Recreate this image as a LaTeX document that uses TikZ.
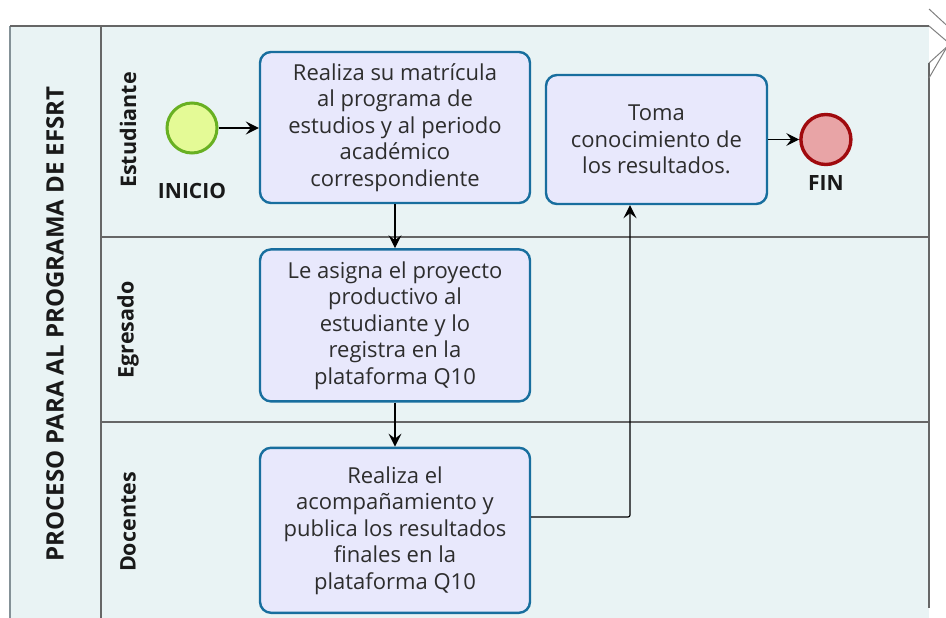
\documentclass[tikz,border=0pt]{standalone}
\usepackage{fontspec}
\setmainfont{Open Sans}
\usetikzlibrary{positioning,arrows.meta}

\definecolor{poolbg}{RGB}{233,243,244}
\definecolor{taskbg}{RGB}{232,232,252}
\definecolor{taskline}{RGB}{24,110,158}
\definecolor{startbg}{RGB}{228,250,150}
\definecolor{startline}{RGB}{104,176,34}
\definecolor{endbg}{RGB}{232,164,166}
\definecolor{endline}{RGB}{160,10,14}
\definecolor{txt}{RGB}{45,45,45}

\tikzset{
	task/.style={draw=taskline, fill=taskbg, line width=2.4pt, rounded corners=11pt,
		minimum width=270pt, align=center, text=txt,
		font=\fontsize{22}{26.5}\selectfont},
	start/.style={circle, draw=startline, fill=startbg, line width=3pt, minimum size=50pt, inner sep=0pt},
	stop/.style={circle, draw=endline, fill=endbg, line width=3.4pt, minimum size=50pt, inner sep=0pt},
	lbl/.style={font=\fontsize{21}{24}\selectfont\bfseries, text=black!90},
	lane/.style={rotate=90, font=\fontsize{21.5}{24}\selectfont\bfseries, text=black!90},
	poolline/.style={draw=black!60, line width=1.3pt},
	flow/.style={draw=black, line width=1.2pt, -{Stealth[length=13pt, width=13pt, inset=5pt]}}
}

\begin{document}
\begin{tikzpicture}[x=1pt, y=-1pt]
	\useasboundingbox (0,0) rectangle (946,618);
	\clip (0,0) rectangle (946,618);
	
	% pool and lanes
	\fill[poolbg] (10,26) rectangle (929,640);
	\draw[draw=black!30!cyan!20!gray, line width=1.3pt] (10,26) -- (10,640);
	\draw[poolline] (10,26) -- (929,26);
	\draw[poolline] (101,26) -- (101,640);
	\draw[poolline] (929,63) -- (929,608);
	\draw[poolline] (101,237) -- (929,237);
	\draw[poolline] (101,422) -- (929,422);
	\draw[draw=black!50, line width=1pt] (929,9) -- (955,33) -- (929,78);
	\draw[draw=black!50, line width=1pt] (929,26) -- (950,44) -- (929,63);
	
	\node[lane, font=\fontsize{24}{28}\selectfont\bfseries] (l_pool) at (55,324) {PROCESO PARA AL PROGRAMA DE EFSRT};
	\node[lane] (l_est) at (128,130) {Estudiante};
	\node[lane] (l_egr) at (128,330) {Egresado};
	\node[lane] (l_doc) at (128,522) {Docentes};
	
	% activities
	\node[task, minimum height=151pt](matricula) at (395,127.5){Realiza su matrícula\\al programa de\\estudios y al periodo\\académico\\correspondiente};
	\node[task, minimum height=152pt, below = 44pt of matricula](asigna){Le asigna el proyecto\\productivo al\\estudiante y lo\\registra en la\\plataforma Q10};
	\node[task, minimum height=165pt, below = 44pt of asigna](acomp){Realiza el\\acompañamiento y\\publica los resultados\\finales en la\\plataforma Q10};
	\node[task, minimum width=221pt, minimum height=129pt](toma) at (656.5,139.5){Toma\\conocimiento de\\los resultados.};
	
	% events
	\node[start](inicio) at (192,128){};
	\node[lbl, below = 36pt of inicio.south, anchor=center](l_inicio){INICIO};
	\node[stop, right = 31pt of toma](fin){};
	\node[lbl, below = 17pt of fin.south, anchor=center](l_fin){FIN};
	\coordinate (bend) at (630,517);
	
	% flows
	\draw[flow] (inicio) -- (inicio -| matricula.west);
	\draw[flow] (matricula) -- (asigna);
	\draw[flow] (asigna) -- (acomp);
	\draw[flow, rounded corners=2pt] (acomp.east |- bend) -- (bend) -- (bend |- toma.south);
	\draw[flow] (toma) -- (fin);
\end{tikzpicture}
\end{document}
